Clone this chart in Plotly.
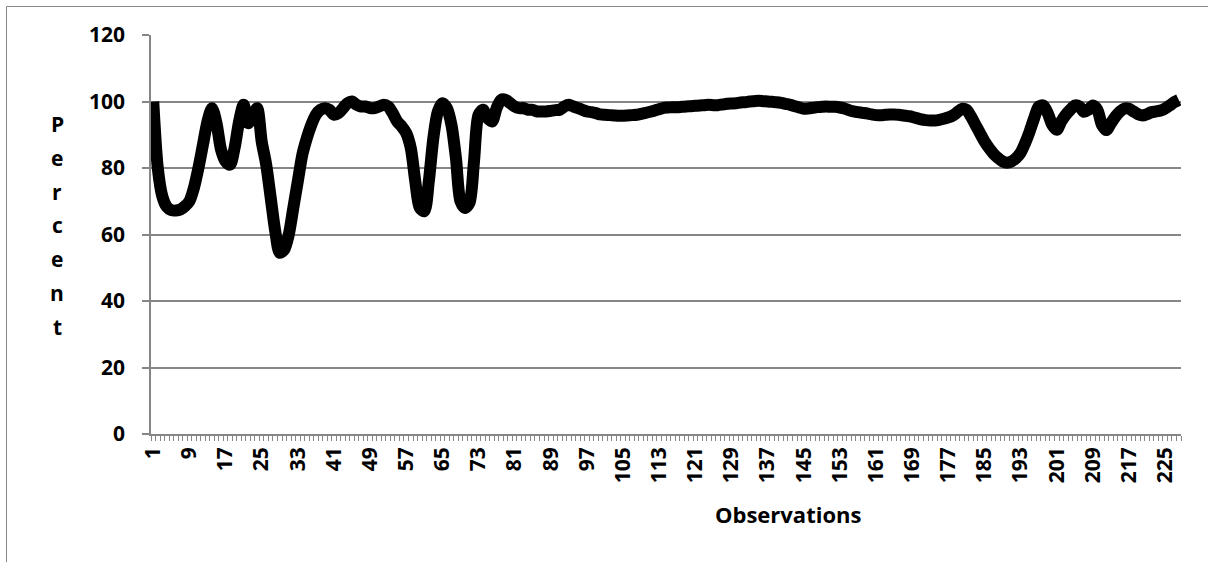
import plotly.graph_objects as go

# ---- data ----
percent = [
    100, 80, 71.5, 68.3, 67.3, 67.2, 67.5, 68.5, 70, 74,
    80, 87, 94, 98, 93.5, 85.5, 82, 81, 86, 94,
    99, 93.5, 95.5, 98, 88, 81, 71, 61, 54.5, 55.5,
    60, 68, 76, 84, 89, 93, 96, 97.5, 98, 97.5,
    96, 96.5, 98, 99.5, 100, 99, 98.5, 98.5, 98, 98,
    98.5, 99, 98.5, 96.5, 94, 92.5, 90.5, 86, 76, 68,
    67, 76, 89, 97, 99.5, 98, 93, 83, 70, 68,
    69.5, 82, 96, 97.5, 95, 94, 98, 100.5, 100.5, 99.5,
    98.5, 98, 98, 97.5, 97.5, 97, 97, 97, 97.2, 97.4,
    97.5, 98.5, 99, 98.5, 98, 97.5, 97, 96.8, 96.5, 96.1,
    96, 95.9, 95.8, 95.7, 95.7, 95.8, 95.9, 96, 96.3, 96.6,
    96.9, 97.3, 97.7, 98.1, 98.2, 98.3, 98.3, 98.4, 98.5, 98.6,
    98.7, 98.8, 98.9, 99, 98.9, 98.9, 99.1, 99.3, 99.4, 99.5,
    99.7, 99.8, 100, 100.1, 100.2, 100.1, 100, 99.9, 99.8, 99.6,
    99.3, 99, 98.6, 98.2, 97.8, 97.9, 98.1, 98.3, 98.4, 98.5,
    98.4, 98.4, 98.2, 97.9, 97.4, 97, 96.8, 96.6, 96.4, 96.1,
    95.9, 95.9, 96, 96.1, 96.1, 96, 95.8, 95.6, 95.4, 95,
    94.6, 94.4, 94.3, 94.3, 94.5, 94.8, 95.2, 95.8, 96.8, 97.8,
    97.5, 95.5, 93, 90.5, 88, 86, 84.3, 83, 82, 81.6,
    82, 83, 84.6, 87.5, 91, 95, 98.5, 98.8, 96.5, 93,
    91.5, 94, 96, 97.5, 98.8, 98.5, 96.9, 97.5, 98.8, 97.5,
    93, 91.4, 93.5, 95.5, 97, 97.9, 97.8, 97, 96.2, 95.8,
    96.2, 96.8, 97, 97.3, 97.9, 98.8, 99.8, 100.5,
]
observations = list(range(1, len(percent) + 1))
x_tick_labels = [str(v) for v in observations if (v - 1) % 8 == 0]
y_tick_values = [0, 20, 40, 60, 80, 100, 120]
y_title_text = "Percent"
x_title_text = "Observations"

GRAY = "#868686"
FONT = "Open Sans"

fig = go.Figure()
fig.add_trace(go.Scatter(
    x=observations, y=percent, mode="lines",
    line=dict(color="black", width=12, shape="spline", smoothing=0.8),
    hoverinfo="skip", showlegend=False,
))

n = len(observations)

def px_x(px):
    return (px - 151) / 1030

def px_y(py):
    return (434 - py) / 399

annotations = []
for k, ch in enumerate(y_title_text):
    annotations.append(dict(
        text=ch, xref="paper", yref="paper",
        x=px_x(57), y=px_y(124 + k * 33.8),
        xanchor="center", yanchor="middle", showarrow=False,
        font=dict(family=FONT, size=21, color="black", weight="bold")))
annotations.append(dict(
    text=x_title_text, xref="paper", yref="paper",
    x=px_x(788), y=px_y(514),
    xanchor="center", yanchor="middle", showarrow=False,
    font=dict(family=FONT, size=22, color="black", weight="bold")))

fig.update_layout(
    width=1208, height=562,
    margin=dict(l=151, r=27, t=35, b=128),
    paper_bgcolor="white", plot_bgcolor="white",
    font=dict(family=FONT, size=21, color="black"),
    xaxis=dict(
        range=[0.5, n + 0.5],
        tickmode="array",
        tickvals=[int(t) for t in x_tick_labels],
        ticktext=x_tick_labels,
        tickangle=-90,
        ticks="", ticklen=0,
        ticklabelstandoff=3,
        tickfont=dict(family=FONT, size=21, color="black", weight="bold"),
        showgrid=False, zeroline=False,
        showline=True, linecolor=GRAY, linewidth=1.5,
        minor=dict(tickmode="array",
                   tickvals=[v - 0.5 for v in observations] + [n + 0.5],
                   ticks="outside", ticklen=5, tickcolor=GRAY, tickwidth=1,
                   showgrid=False),
    ),
    yaxis=dict(
        range=[0, 120],
        tickmode="array", tickvals=y_tick_values,
        ticks="outside", ticklen=7, tickcolor=GRAY, tickwidth=1.5,
        ticklabelstandoff=13,
        tickfont=dict(family=FONT, size=21, color="black", weight="bold"),
        showgrid=True, gridcolor=GRAY, gridwidth=1.5,
        zeroline=False,
        showline=True, linecolor=GRAY, linewidth=1.5,
    ),
    shapes=[dict(
        type="rect", xref="paper", yref="paper",
        x0=px_x(6.5), x1=px_x(1230),
        y0=px_y(600), y1=px_y(6.5),
        line=dict(color=GRAY, width=1), fillcolor="rgba(0,0,0,0)",
        layer="below",
    )],
    annotations=annotations,
)

fig.write_html("out.html")
